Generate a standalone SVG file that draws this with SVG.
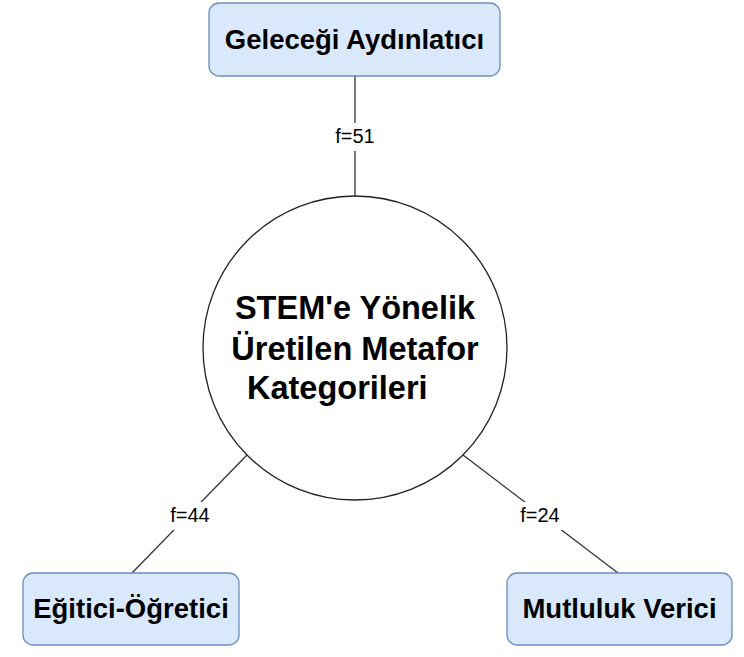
<svg xmlns="http://www.w3.org/2000/svg" width="744" height="657" viewBox="0 0 744 657">
<style>
.box{fill:#dae8fc;stroke:#6c8ebf;stroke-width:1.3}
.circ{fill:#fff;stroke:#222;stroke-width:1.3}
.edge{stroke:#333;stroke-width:1.3;fill:none}
.lbl-bg{fill:#fff}
.lbl{font-family:"Liberation Sans",Arial,sans-serif;font-size:20px;fill:#000;text-anchor:middle}
.t{font-family:"Liberation Sans",Arial,sans-serif;font-weight:bold;font-size:27.5px;fill:#000;text-anchor:middle}
.ct{font-family:"Liberation Sans",Arial,sans-serif;font-weight:bold;font-size:32.5px;fill:#000}
</style>
<rect width="744" height="657" fill="#fff"/>
<g id="connectors">
  <line class="edge" x1="355" y1="76" x2="355" y2="197"/>
  <line class="edge" x1="247" y1="455" x2="132" y2="573"/>
  <line class="edge" x1="463" y1="455" x2="618" y2="573"/>
  <rect class="lbl-bg" x="330" y="123" width="50" height="28"/>
  <text class="lbl" x="355" y="143">f=51</text>
  <rect class="lbl-bg" x="165" y="502" width="50" height="28"/>
  <text class="lbl" x="190" y="522">f=44</text>
  <rect class="lbl-bg" x="515" y="502" width="50" height="28"/>
  <text class="lbl" x="540" y="522">f=24</text>
</g>
<g id="center">
  <circle class="circ" cx="355" cy="348" r="152"/>
  <text class="ct" x="355" y="319" text-anchor="middle">STEM'e Yönelik</text>
  <text class="ct" x="355" y="360" text-anchor="middle">Üretilen Metafor</text>
  <text class="ct" x="247" y="399">Kategorileri</text>
</g>
<g id="top">
  <rect class="box" x="209" y="3" width="291" height="73" rx="10"/>
  <text class="t" x="354.5" y="49">Geleceği Aydınlatıcı</text>
</g>
<g id="left">
  <rect class="box" x="23" y="573" width="216" height="72" rx="10"/>
  <text class="t" x="131" y="618">Eğitici-Öğretici</text>
</g>
<g id="right">
  <rect class="box" x="507" y="573" width="225" height="72" rx="10"/>
  <text class="t" x="619.5" y="618">Mutluluk Verici</text>
</g>
</svg>
